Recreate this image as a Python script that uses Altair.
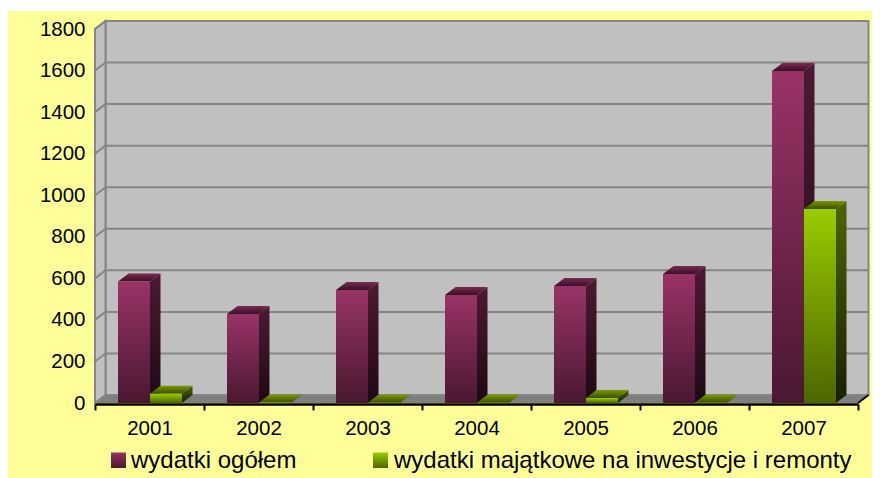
import altair as alt
import pandas as pd

years = ["2001", "2002", "2003", "2004", "2005", "2006", "2007"]
total = [585, 428, 544, 520, 563, 621, 1598]
invest = [45, 2, 1, 1, 24, 1, 934]
names = ["wydatki ogółem", "wydatki majątkowe na inwestycje i remonty"]
ticks_y = list(range(0, 2000, 200))

# styles
W, H = 763, 374
DX = 10.5 / 109      # depth of the 3D look in x-scale units
DY = 8 / (374 / 1800)  # depth in y-scale units
BW = 32 / 109
GAP = 23 / 109
FONT = "Liberation Sans"
PAD_R = 14

xs = alt.Scale(domain=[0, 7], nice=False, zero=False)
ys = alt.Scale(domain=[0, 1800], nice=False, zero=False)
X = alt.X("x:Q", scale=xs, axis=None)
Y = alt.Y("y:Q", scale=ys, title=None, axis=alt.Axis(
    zindex=2, values=ticks_y, format="d", grid=False, domain=False, ticks=False, labelFont=FONT,
    labelFontSize=20.5, labelColor="#000000", labelPadding=10))
X2 = alt.X2("x2:Q")
Y2 = alt.Y2("y2:Q")


def grad(top, bottom):
    return alt.Gradient(
        gradient="linear", x1=0, x2=0, y1=0, y2=1,
        stops=[alt.GradientStop(color=top, offset=0), alt.GradientStop(color=bottom, offset=1)],
    )


def bars(values, slot, c_front, c_side, c_top):
    out = []
    for i, v in enumerate(values):
        a = i + GAP + slot * BW
        b = a + BW
        side = pd.DataFrame([
            {"x": b, "y": v, "y2": 0},
            {"x": b + DX, "y": v + DY, "y2": DY},
        ])
        top = pd.DataFrame([
            {"y": v, "x": a, "x2": b},
            {"y": v + DY, "x": a + DX, "x2": b + DX},
        ])
        front = pd.DataFrame([{"x": a, "x2": b, "y": v, "y2": 0}])
        out.append(alt.Chart(side).mark_area(clip=False, color=grad(*c_side), orient="vertical")
                   .encode(x=X, y=Y, y2=Y2))
        out.append(alt.Chart(top).mark_area(clip=False, color=grad(*c_top), orient="horizontal")
                   .encode(y=Y, x=X, x2=X2))
        out.append(alt.Chart(front).mark_rect(clip=False, color=grad(*c_front))
                   .encode(x=X, x2=X2, y=Y, y2=Y2))
    return out


GREY = "#c0c0c0"
LINE = "#868686"

# back wall
back = alt.Chart(pd.DataFrame([{"x": DX, "x2": 7 + DX, "y": DY, "y2": 1800 + DY}])).mark_rect(
    clip=False, fill=GREY, stroke=LINE, strokeWidth=2
).encode(x=X, x2=X2, y=Y, y2=Y2)

# left wall
left = alt.Chart(pd.DataFrame([
    {"x": 0, "y": 0, "y2": 1800},
    {"x": DX, "y": DY, "y2": 1800 + DY},
])).mark_area(clip=False, fill=GREY, stroke=LINE, strokeWidth=2, orient="vertical").encode(x=X, y=Y, y2=Y2)

# floor
floor = alt.Chart(pd.DataFrame([
    {"y": 0, "x": 0, "x2": 7},
    {"y": DY, "x": DX, "x2": 7 + DX},
])).mark_area(clip=False, fill="#7f7f7f", orient="horizontal").encode(y=Y, x=X, x2=X2)

# gridlines: back wall and their continuation on the left wall
grid_back = alt.Chart(pd.DataFrame([{"x": DX, "x2": 7 + DX, "y": v + DY} for v in ticks_y])).mark_rule(
    clip=False, color=LINE, strokeWidth=2
).encode(x=X, x2=X2, y=Y)
grid_side = alt.Chart(pd.DataFrame([
    {"k": v, "x": x, "y": v + d} for v in ticks_y for x, d in ((0, 0), (DX, DY))
])).mark_line(clip=False, color=LINE, strokeWidth=2).encode(x=X, y=Y, detail="k:N")

# right-hand diagonal of the floor
edge = alt.Chart(pd.DataFrame([{"x": 7, "y": 0}, {"x": 7 + DX, "y": DY}])).mark_line(
    clip=False, color="#000000", strokeWidth=2
).encode(x=X, y=Y)

# axes
tick_axis = alt.Chart(pd.DataFrame({"x": [0.0], "y": [0.0]})).mark_point(opacity=0).encode(
    x=alt.X("x:Q", scale=xs, title=None, axis=alt.Axis(
        orient="bottom", zindex=2, offset=1, values=list(range(8)), labels=False, grid=False,
        domainColor="#000000", domainWidth=2.5, tickColor="#000000", tickWidth=2, tickSize=6)),
    y=Y,
)
year_list = "[" + ",".join(f"'{y}'" for y in years) + "]"
label_axis = alt.Chart(pd.DataFrame({"x": [0.0]})).mark_point(opacity=0).encode(
    x=alt.X("x:Q", scale=xs, title=None, axis=alt.Axis(
        orient="bottom", zindex=2, values=[i + 0.5 for i in range(7)],
        labelExpr=f"{year_list}[floor(datum.value)]", grid=False,
        domain=False, ticks=False, labelFont=FONT, labelFontSize=20.5, labelColor="#000000",
        labelPadding=15, labelOverlap=False)),
)

# page-coloured panel, starting 3px below the top of the canvas
panel = alt.Chart(pd.DataFrame({"a": [0]})).mark_rect(fill="#ffff99", clip=False).encode(
    x=alt.value(-87), x2=alt.value(W + PAD_R), y=alt.value(-18), y2=alt.value(H + 75)
)


# legend
def legend(x_sw, x_txt, name, top, bottom):
    sw = alt.Chart(pd.DataFrame({"a": [0]})).mark_rect(fill=grad(top, bottom), clip=False).encode(
        x=alt.value(x_sw), x2=alt.value(x_sw + 15), y=alt.value(423.5), y2=alt.value(439)
    )
    tx = alt.Chart(pd.DataFrame({"t": [name]})).mark_text(
        align="left", baseline="alphabetic", font=FONT, fontSize=24, color="#000000", clip=False
    ).encode(x=alt.value(x_txt), y=alt.value(438.5), text="t:N")
    return [sw, tx]


PF = ("#993366", "#4a1832")
PS = ("#4d1a33", "#1d0913")
PT = ("#7a2952", "#3a1026")
GF = ("#99cc00", "#4d6600")
GS = ("#4d6600", "#182000")
GT = ("#7a9900", "#3d5000")

layers = [panel, back, left, floor, grid_back, grid_side, edge]
layers += bars(total, 0, PF, PS, PT)
layers += bars(invest, 1, GF, GS, GT)
layers += [tick_axis, label_axis]
layers += legend(16, 36, names[0], *PF)
layers += legend(278, 299, names[1], *GF)

chart = alt.layer(*layers).resolve_axis(x="independent").properties(
    width=W, height=H,
    padding={"left": 87, "right": PAD_R, "top": 21, "bottom": 75},
    autosize=alt.AutoSizeParams(type="none"),
    background="#ffffff",
).configure_view(stroke=None)

chart.save("out.html", embed_options={"renderer": "svg", "actions": False})
